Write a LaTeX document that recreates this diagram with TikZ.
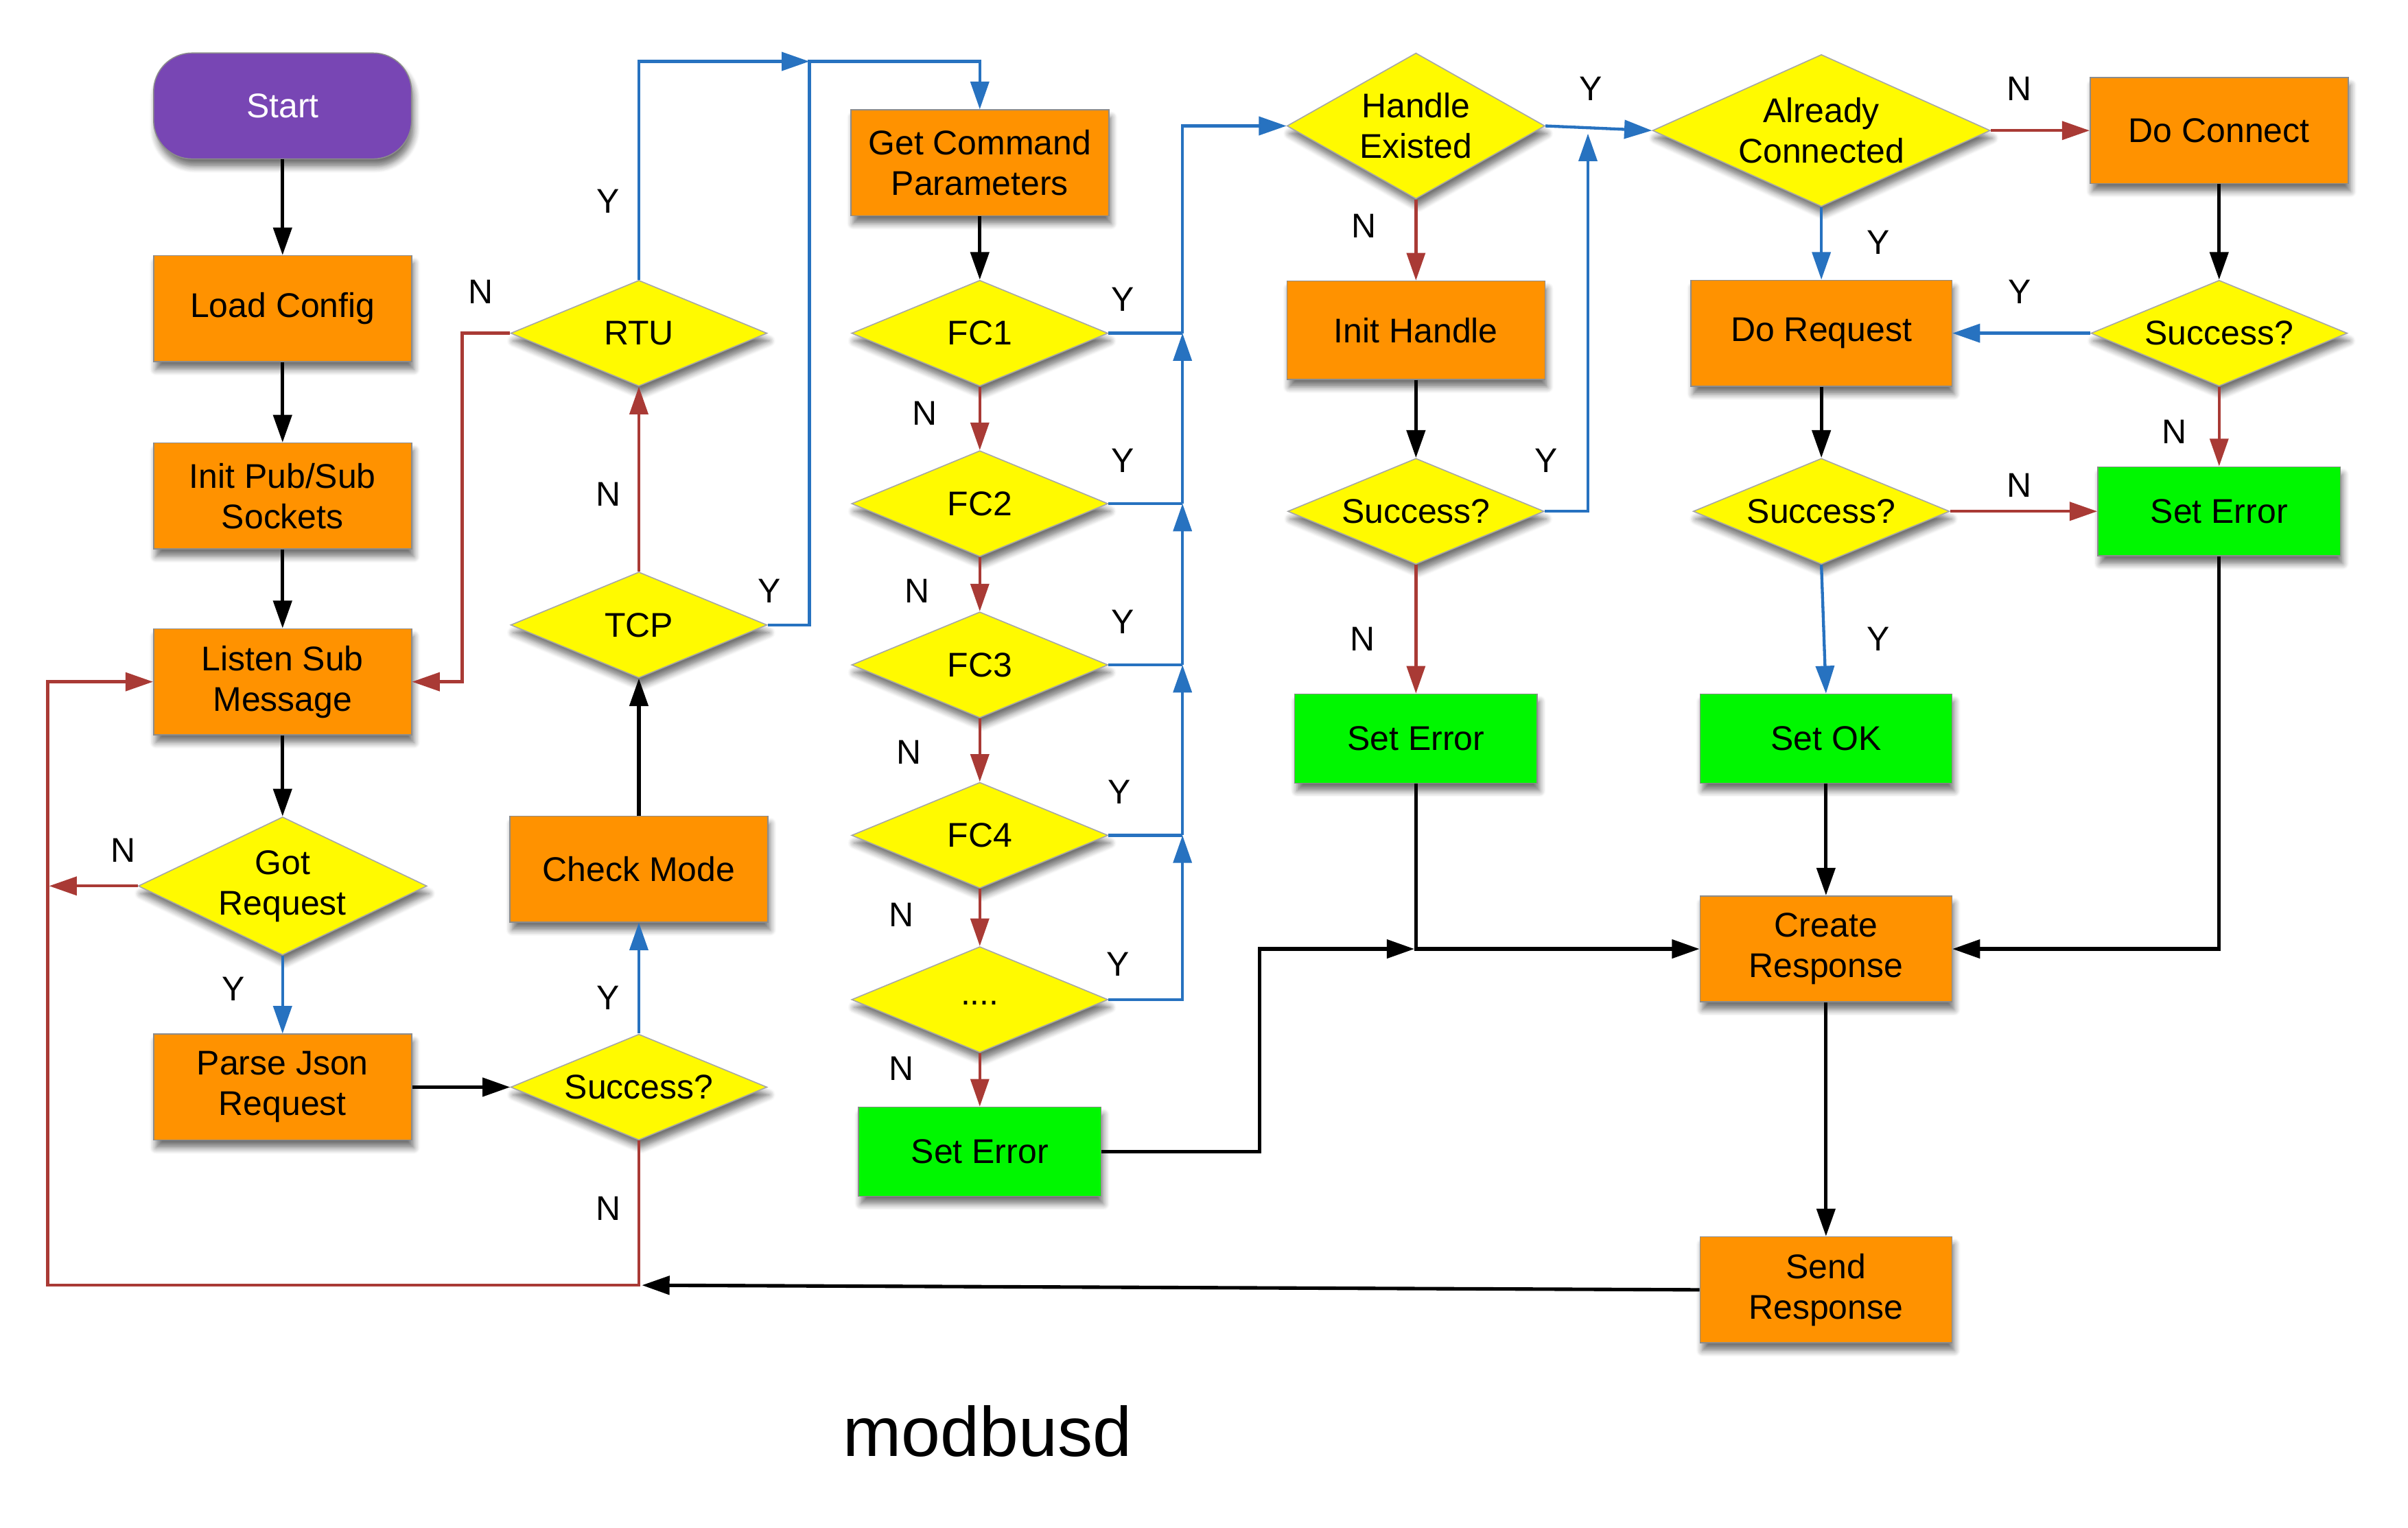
\documentclass[tikz,border=0pt]{standalone}
\usepackage{fontspec}
\setmainfont{Liberation Sans}
\usetikzlibrary{arrows.meta,shapes.geometric,shadows,shadows.blur}
\definecolor{orng}{HTML}{FF9200}
\definecolor{yel}{HTML}{FFFA00}
\definecolor{grn}{HTML}{00F700}
\definecolor{purp}{HTML}{7846B4}
\definecolor{blu}{HTML}{2772C0}
\definecolor{rdc}{HTML}{A93A35}
\begin{document}
\begin{tikzpicture}[x=0.02cm,y=-0.02cm,
  >={Triangle[length=0.36cm,width=0.24cm]},
  base/.style={font=\fontsize{12.7}{15}\selectfont, align=center, inner sep=0pt,
    blur shadow={shadow xshift=0.03cm, shadow yshift=-0.1cm, shadow blur radius=0.08cm,
      shadow blur steps=6, shadow opacity=55}},
  box/.style={base, rectangle, fill=orng, draw=black!45, line width=0.4pt,
    minimum width=3.36cm, minimum height=1.38cm},
  gbox/.style={box, fill=grn, minimum width=3.16cm, minimum height=1.16cm},
  dec/.style={base, diamond, fill=yel, draw=black!35, line width=0.4pt,
    minimum width=3.34cm, minimum height=1.38cm, aspect=2.4},
  startbox/.style={base, rectangle, rounded corners=0.5cm, fill=purp, draw=black!45,
    line width=0.4pt, text=white, minimum width=3.36cm, minimum height=1.38cm},
  lbl/.style={font=\fontsize{12.7}{15}\selectfont, inner sep=0pt},
  blk/.style={draw=black, line width=1.3pt, ->},
  bl/.style={draw=blu, line width=1.1pt, ->},
  blp/.style={draw=blu, line width=1.1pt},
  rd/.style={draw=rdc, line width=1.1pt, ->},
]
\path[use as bounding box] (0,0) rectangle (1568,995);

% column 1
\node[startbox] (start) at (184,69) {Start};
\node[box] (load) at (184,201) {Load Config};
\node[box] (init) at (184,323) {Init Pub/Sub\\Sockets};
\node[box] (listen) at (184,444) {Listen Sub\\Message};
\node[dec, minimum width=3.76cm, minimum height=1.8cm, aspect=2.1] (gotreq) at (184,577) {Got\\Request};
\node[box] (parse) at (184,708) {Parse Json\\Request};

% column 2
\node[dec] (rtu) at (416,217) {RTU};
\node[dec] (tcp) at (416,407) {TCP};
\node[box] (check) at (416,566) {Check Mode};
\node[dec] (succ1) at (416,708) {Success?};

% column 3
\node[box] (getcmd) at (638,106) {Get Command\\Parameters};
\node[dec] (fc1) at (638,217) {FC1};
\node[dec] (fc2) at (638,328) {FC2};
\node[dec] (fc3) at (638,433) {FC3};
\node[dec] (fc4) at (638,544) {FC4};
\node[dec] (fcx) at (638,651) {\raisebox{-4pt}{....}};
\node[gbox] (err1) at (638,750) {Set Error};

% column 4
\node[dec, minimum width=3.36cm, minimum height=1.9cm, aspect=1.8] (handle) at (922,82) {Handle\\Existed};
\node[box, minimum height=1.28cm] (inith) at (922,215) {Init Handle};
\node[dec] (succ2) at (922,333) {Success?};
\node[gbox] (err2) at (922,481) {Set Error};

% column 5
\node[dec, minimum width=4.4cm, minimum height=1.98cm, aspect=2.2] (already) at (1186,85) {Already\\Connected};
\node[box, minimum width=3.4cm] (doreq) at (1186,217) {Do Request};
\node[dec] (succ3) at (1186,333) {Success?};
\node[gbox, minimum width=3.28cm] (setok) at (1189,481) {Set OK};
\node[box, minimum width=3.28cm] (create) at (1189,618) {Create\\Response};
\node[box, minimum width=3.28cm] (send) at (1189,840) {Send\\Response};

% column 6
\node[box] (doconn) at (1445,85) {Do Connect};
\node[dec] (succ4) at (1445,217) {Success?};
\node[gbox] (err3) at (1445,333) {Set Error};

% title
\node[font=\fontsize{26}{30}\selectfont, inner sep=0pt] (title) at (643,932) {modbusd};

% helper coordinates
\coordinate (gn) at (32,577);
\coordinate (lb) at (31,837);
\coordinate (rn) at (301,217);
\coordinate (j1) at (527,40);
\coordinate (b1) at (770,217);
\coordinate (b2) at (770,328);
\coordinate (b3) at (770,433);
\coordinate (b4) at (770,544);
\coordinate (hy) at (1034,87);
\coordinate (m1) at (820,618);
\coordinate (m2) at (921,618);
\coordinate (sr) at (418,837);

% column 1 connectors
\draw[blk] (start) -- (load);
\draw[blk] (load) -- (init);
\draw[blk] (init) -- (listen);
\draw[blk] (listen) -- (gotreq);
\draw[bl] (gotreq.south) -- (parse.north);
\draw[rd] (gotreq.west) -- (gn);
\draw[blk] (parse.east) -- (succ1.west);

% column 2 connectors
\draw[bl] (succ1.north) -- (check.south);
\draw[rd] (succ1.south) |- (lb) |- (listen.west);
\draw[blk] (check.north) -- (tcp.south);
\draw[rd] (tcp.north) -- (rtu.south);
\draw[bl] (tcp.east) -| (j1) -| (getcmd.north);
\draw[bl] (rtu.north) |- (j1);
\draw[rd] (rtu.west) -- (rn) |- (listen.east);

% column 3 connectors
\draw[blk] (getcmd) -- (fc1);
\draw[rd] (fc1.south) -- (fc2.north);
\draw[rd] (fc2.south) -- (fc3.north);
\draw[rd] (fc3.south) -- (fc4.north);
\draw[rd] (fc4.south) -- (fcx.north);
\draw[rd] (fcx.south) -- (err1.north);
\draw[bl] (fcx.east) -| (b4);
\draw[blp] (fc4.east) -- (b4);
\draw[bl] (b4) -- (b3);
\draw[blp] (fc3.east) -- (b3);
\draw[bl] (b3) -- (b2);
\draw[blp] (fc2.east) -- (b2);
\draw[bl] (b2) -- (b1);
\draw[blp] (fc1.east) -- (b1);
\draw[bl] (b1) |- (handle.west);
\draw[blk] (err1.east) -| (m1) -- (m2);

% column 4 connectors
\draw[bl] (handle.east) -- (already.west);
\draw[rd] (handle.south) -- (inith.north);
\draw[blk] (inith) -- (succ2);
\draw[bl] (succ2.east) -| (hy);
\draw[rd] (succ2.south) -- (err2.north);
\draw[blk] (err2.south) |- (create.west);

% column 5/6 connectors
\draw[bl] (already.south) -- (doreq.north);
\draw[rd] (already.east) -- (doconn.west);
\draw[blk] (doconn) -- (succ4);
\draw[bl] (succ4.west) -- (doreq.east);
\draw[rd] (succ4.south) -- (err3.north);
\draw[blk] (doreq) -- (succ3);
\draw[rd] (succ3.east) -- (err3.west);
\draw[bl] (succ3.south) -- (setok.north);
\draw[blk] (setok) -- (create);
\draw[blk] (err3.south) |- (create.east);
\draw[blk] (create) -- (send);
\draw[blk] (send.west) -- (sr);

% labels
\node[lbl] (l01) at (80,554) {N};
\node[lbl] (l02) at (152,644) {Y};
\node[lbl] (l03) at (313,190) {N};
\node[lbl] (l04) at (396,131) {Y};
\node[lbl] (l05) at (396,322) {N};
\node[lbl] (l06) at (501,385) {Y};
\node[lbl] (l07) at (396,650) {Y};
\node[lbl] (l08) at (396,787) {N};
\node[lbl] (l09) at (731,195) {Y};
\node[lbl] (l10) at (602,269) {N};
\node[lbl] (l11) at (731,300) {Y};
\node[lbl] (l12) at (597,385) {N};
\node[lbl] (l13) at (731,405) {Y};
\node[lbl] (l14) at (592,490) {N};
\node[lbl] (l15) at (729,516) {Y};
\node[lbl] (l16) at (587,596) {N};
\node[lbl] (l17) at (728,628) {Y};
\node[lbl] (l18) at (587,696) {N};
\node[lbl] (l19) at (1036,58) {Y};
\node[lbl] (l20) at (888,147) {N};
\node[lbl] (l21) at (1007,300) {Y};
\node[lbl] (l22) at (887,416) {N};
\node[lbl] (l23) at (1315,58) {N};
\node[lbl] (l24) at (1223,158) {Y};
\node[lbl] (l25) at (1315,190) {Y};
\node[lbl] (l26) at (1416,281) {N};
\node[lbl] (l27) at (1315,316) {N};
\node[lbl] (l28) at (1223,416) {Y};
\end{tikzpicture}
\end{document}
